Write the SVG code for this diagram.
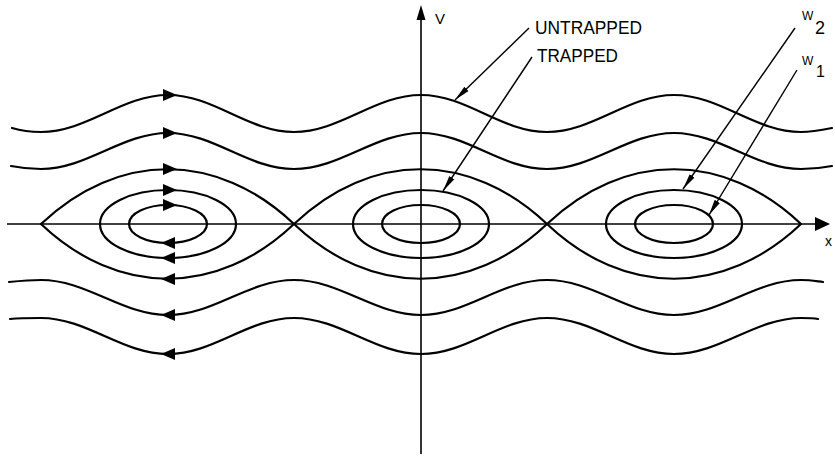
<svg xmlns="http://www.w3.org/2000/svg" xmlns:xlink="http://www.w3.org/1999/xlink" width="835" height="457" viewBox="0 0 835 457">
<style>
.c{fill:none;stroke:#000;stroke-width:2.2;stroke-linejoin:round;stroke-linecap:round}
.ax{fill:none;stroke:#000;stroke-width:1.6}
.ld{fill:none;stroke:#000;stroke-width:1.4}
.t{font-family:"Liberation Sans",Arial,sans-serif;fill:#000}
</style>
<defs>
<path id="arR" d="M7,0 L-7,-6 L-7,6 Z" fill="#000"/>
<path id="arL" d="M-7,0 L7,-6 L7,6 Z" fill="#000"/>
<marker id="la" markerUnits="userSpaceOnUse" markerWidth="16" markerHeight="8" viewBox="0 -4 16 8" refX="16" refY="0" orient="auto">
<path d="M0,-3 L16,0 L0,3 Z" fill="#000"/>
</marker>
</defs>
<rect width="835" height="457" fill="#fff"/>
<g id="axes">
<line class="ax" x1="7" y1="224" x2="816" y2="224"/>
<path d="M830,224 L815,217 L815,231 Z" fill="#000"/>
<line class="ax" x1="421" y1="454" x2="421" y2="19"/>
<path d="M421,5 L416.5,20 L425.5,20 Z" fill="#000"/>
<text class="t" x="435" y="24" font-size="15">V</text>
<text class="t" x="825" y="246" font-size="14">x</text>
</g>
<g id="untrapped-upper">
<path class="c" d="M12,128 C22,131 31,132 41,132 C87,132 122,95 168,95 C214,95 248,132 294,132 C340,132 375,95 421,95 C467,95 501,132 547,132 C593,132 628,95 674,95 C720,95 755,132 801,132 C811,132 822,130 832,128"/>
<path class="c" d="M11,166 C21,168 31,169 41,169 C87,169 122,133 168,133 C214,133 248,169 294,169 C340,169 375,133 421,133 C467,133 501,169 547,169 C593,169 628,133 674,133 C720,133 755,169 801,169 C811,169 822,168 832,166"/>
</g>
<g id="untrapped-lower">
<path class="c" d="M9,282 C19,281 30,280 41,280 C87,280 122,315 168,315 C214,315 248,280 294,280 C340,280 375,315 421,315 C467,315 501,280 547,280 C593,280 628,315 674,315 C720,315 755,280 801,280 C810,280 815,281 823,282"/>
<path class="c" d="M10,319 C20,318 30,318 41,318 C87,318 122,354 168,354 C214,354 248,318 294,318 C340,318 375,354 421,354 C467,354 501,318 547,318 C593,318 628,354 674,354 C720,354 755,318 801,318 C809,318 813,318 818,319"/>
</g>
<g id="separatrix">
<path class="c" d="M41,224 C118,151 217,151 294,224 C371,151 470,151 547,224 C624,151 724,151 801,224"/>
<path class="c" d="M41,224 C118,297 217,297 294,224 C371,297 470,297 547,224 C624,297 724,297 801,224"/>
</g>
<g id="island-left">
<ellipse class="c" cx="168" cy="224" rx="68" ry="34"/>
<ellipse class="c" cx="168" cy="224" rx="39" ry="19"/>
</g>
<g id="island-center">
<ellipse class="c" cx="421" cy="224" rx="68" ry="34"/>
<ellipse class="c" cx="421" cy="224" rx="39" ry="19"/>
</g>
<g id="island-right">
<ellipse class="c" cx="674" cy="224" rx="68" ry="34"/>
<ellipse class="c" cx="674" cy="224" rx="39" ry="19"/>
</g>
<g id="flow-arrows">
<use xlink:href="#arR" x="170" y="95"/>
<use xlink:href="#arR" x="170" y="133"/>
<use xlink:href="#arR" x="170" y="169"/>
<use xlink:href="#arR" x="170" y="190"/>
<use xlink:href="#arR" x="170" y="205"/>
<use xlink:href="#arL" x="168" y="243"/>
<use xlink:href="#arL" x="168" y="258"/>
<use xlink:href="#arL" x="168" y="279"/>
<use xlink:href="#arL" x="168" y="315"/>
<use xlink:href="#arL" x="168" y="354"/>
</g>
<g id="label-untrapped">
<text class="t" x="535" y="34" font-size="19" textLength="107" lengthAdjust="spacingAndGlyphs">UNTRAPPED</text>
</g>
<g id="label-trapped">
<text class="t" x="537" y="62" font-size="19" textLength="81" lengthAdjust="spacingAndGlyphs">TRAPPED</text>
</g>
<g id="label-w2">
<text class="t" x="802" y="20" font-size="12">W</text>
<text class="t" x="815" y="34" font-size="18">2</text>
</g>
<g id="label-w1">
<text class="t" x="802" y="65" font-size="12">W</text>
<text class="t" x="816" y="77" font-size="16">1</text>
</g>
<g id="connectors">
<line class="ld" x1="529" y1="28" x2="455" y2="100" marker-end="url(#la)"/>
<line class="ld" x1="532" y1="57" x2="443" y2="191" marker-end="url(#la)"/>
<line class="ld" x1="795" y1="28" x2="683" y2="189" marker-end="url(#la)"/>
<line class="ld" x1="797" y1="70" x2="709" y2="215" marker-end="url(#la)"/>
</g>
</svg>
